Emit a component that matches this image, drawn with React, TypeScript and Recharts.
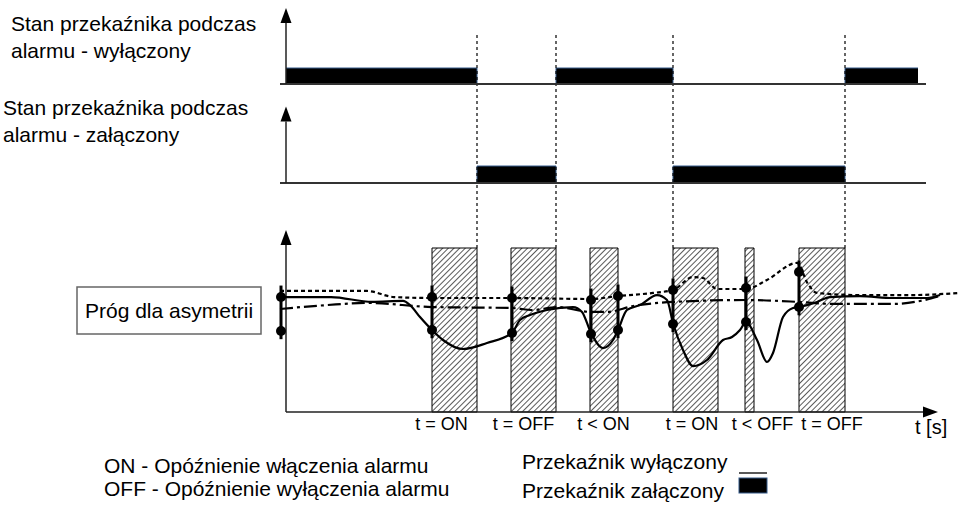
import React from 'react';
import { ComposedChart, XAxis, YAxis, Line, Area, Scatter, ReferenceArea, ReferenceLine } from 'recharts';

const W = 963;
const H = 505;
const PLOT_BOTTOM = 412;
const FONT = '"Liberation Sans", Arial, Helvetica, sans-serif';

// time axis, seconds
const X_DOMAIN: [number, number] = [-28.6, 67.7];

// relay switching moments
const switchTimes = [19.1, 27.0, 38.7, 55.9];

// relay state, alarm -> relay off
const relayOff = [
  { t: 0, s: 1 },
  { t: 19.1, s: 0 },
  { t: 27.0, s: 1 },
  { t: 38.7, s: 0 },
  { t: 55.9, s: 1 },
  { t: 63.2, s: 1 },
];

// relay state, alarm -> relay on
const relayOn = [
  { t: 0, s: 0 },
  { t: 19.1, s: 1 },
  { t: 27.0, s: 0 },
  { t: 38.7, s: 1 },
  { t: 55.9, s: 0 },
  { t: 63.2, s: 0 },
];

// delay windows
const windows = [
  { start: 14.6, end: 19.1, label: 't = ON', labelAt: 15.55 },
  { start: 22.5, end: 27.0, label: 't = OFF', labelAt: 23.75 },
  { start: 30.4, end: 33.2, label: 't < ON', labelAt: 31.75 },
  { start: 38.7, end: 43.2, label: 't = ON', labelAt: 40.6 },
  { start: 45.9, end: 46.8, label: 't < OFF', labelAt: 47.65 },
  { start: 51.3, end: 55.9, label: 't = OFF', labelAt: 54.6 },
];

// measured signal (solid)
const signal = [
  { t: -0.6, v: 70.1 }, { t: 4.5, v: 70.1 }, { t: 8.6, v: 67.1 }, { t: 11.7, v: 67.7 },
  { t: 12.4, v: 65.2 }, { t: 13.4, v: 57.9 }, { t: 14.6, v: 50.0 }, { t: 15.7, v: 43.9 },
  { t: 17.7, v: 38.4 }, { t: 20.1, v: 42.1 }, { t: 22.6, v: 48.2 }, { t: 23.4, v: 56.1 },
  { t: 24.4, v: 59.1 }, { t: 26.1, v: 62.2 }, { t: 28.7, v: 64.0 }, { t: 29.6, v: 61.0 },
  { t: 30.5, v: 48.2 }, { t: 31.7, v: 39.0 }, { t: 32.7, v: 43.9 }, { t: 33.2, v: 50.0 },
  { t: 34.1, v: 62.2 }, { t: 35.4, v: 65.2 }, { t: 37.1, v: 71.3 }, { t: 38.1, v: 68.3 },
  { t: 38.7, v: 54.3 }, { t: 39.7, v: 37.8 }, { t: 40.7, v: 28.0 }, { t: 42.1, v: 31.7 },
  { t: 43.7, v: 43.9 }, { t: 44.6, v: 45.7 }, { t: 45.4, v: 50.0 }, { t: 46.0, v: 54.9 },
  { t: 47.1, v: 43.9 }, { t: 48.1, v: 30.5 }, { t: 48.7, v: 36.0 }, { t: 49.7, v: 57.9 },
  { t: 50.7, v: 63.4 }, { t: 51.3, v: 64.0 }, { t: 53.1, v: 67.1 }, { t: 54.4, v: 70.1 },
  { t: 57.4, v: 70.7 }, { t: 60.7, v: 69.5 }, { t: 64.1, v: 69.5 }, { t: 65.4, v: 71.3 },
];

// upper level (dotted)
const upperLevel = [
  { t: -0.6, v: 73.8 }, { t: 8.1, v: 73.8 }, { t: 10.8, v: 70.1 }, { t: 14.6, v: 69.5 },
  { t: 22.6, v: 69.5 }, { t: 30.5, v: 68.9 }, { t: 33.2, v: 70.7 }, { t: 36.7, v: 72.6 },
  { t: 38.7, v: 74.4 }, { t: 40.7, v: 82.3 }, { t: 41.7, v: 81.7 }, { t: 43.1, v: 75.0 },
  { t: 46.0, v: 75.0 }, { t: 48.1, v: 80.5 }, { t: 51.1, v: 90.9 }, { t: 52.2, v: 78.0 },
  { t: 53.1, v: 72.6 }, { t: 57.4, v: 71.3 }, { t: 62.4, v: 71.3 }, { t: 67.4, v: 72.6 },
];

// lower level (dash-dot)
const lowerLevel = [
  { t: -0.6, v: 62.8 }, { t: 4.1, v: 65.2 }, { t: 8.1, v: 66.5 }, { t: 14.6, v: 64.0 },
  { t: 22.6, v: 63.4 }, { t: 24.7, v: 62.2 }, { t: 27.1, v: 64.0 }, { t: 30.5, v: 61.0 },
  { t: 32.1, v: 61.0 }, { t: 34.7, v: 64.6 }, { t: 38.7, v: 67.1 }, { t: 46.0, v: 68.3 },
  { t: 51.3, v: 67.1 }, { t: 54.7, v: 65.9 }, { t: 60.7, v: 65.9 }, { t: 63.4, v: 67.7 },
  { t: 65.4, v: 70.7 },
];

// threshold marker and crossing markers
const thresholdMark = { t: -0.5, upper: 70.1, lower: 49.4 };
const crossings = [
  { t: 14.6, upper: 70.1, lower: 50.0 },
  { t: 22.6, upper: 69.5, lower: 48.2 },
  { t: 30.5, upper: 68.3, lower: 47.6 },
  { t: 33.2, upper: 70.7, lower: 50.0 },
  { t: 38.7, upper: 74.4, lower: 53.7 },
  { t: 46.0, upper: 75.6, lower: 54.9 },
  { t: 51.3, upper: 85.4, lower: 64.0 },
];

const allMarks = [thresholdMark, ...crossings];
const markDots = allMarks.flatMap((m) => [
  { t: m.t, v: m.upper },
  { t: m.t, v: m.lower },
]);

// maps a value 0 to a pixel row, with given pixels per unit
const band = (zeroPx: number, unitPx: number): [number, number] => [
  -(PLOT_BOTTOM - zeroPx) / unitPx,
  zeroPx / unitPx,
];
const SIG_UNIT = 1.64;

const Arrow = (p: any) => {
  const { x1, y1, x2, y2 } = p;
  const a = Math.atan2(y2 - y1, x2 - x1);
  const L = 15;
  const hw = 5.5;
  const bx = x2 - L * Math.cos(a);
  const by = y2 - L * Math.sin(a);
  const nx = -Math.sin(a) * hw;
  const ny = Math.cos(a) * hw;
  return (
    <g>
      <line x1={x1} y1={y1} x2={bx} y2={by} stroke="#222" strokeWidth={1.5} />
      <polygon points={`${x2},${y2} ${bx + nx},${by + ny} ${bx - nx},${by - ny}`} fill="#000" />
    </g>
  );
};

const txt = { fontFamily: FONT, fontSize: 21, fill: '#000' };

export default function App() {
  return (
    <div style={{ width: W, height: H, position: 'relative', background: '#fff' }}>
      <style>{'body{margin:0}'}</style>
      <ComposedChart width={W} height={H} margin={{ top: 0, right: 0, bottom: 0, left: 0 }}>
        <defs>
          <pattern id="hatch" patternUnits="userSpaceOnUse" width="4" height="4" patternTransform="rotate(45)">
            <rect width="4" height="4" fill="#fff" />
            <line x1="0" y1="0" x2="0" y2="4" stroke="#000" strokeWidth="1.3" />
          </pattern>
        </defs>
        <XAxis
          type="number"
          dataKey="t"
          domain={X_DOMAIN}
          allowDataOverflow
          height={H - PLOT_BOTTOM}
          ticks={windows.map((w) => w.labelAt)}
          tickFormatter={(_v: number, i: number) => windows[i].label}
          interval={0}
          axisLine={false}
          tickLine={false}
          tickSize={0}
          tickMargin={5}
          tick={{ fill: '#000', fontSize: 18, fontFamily: FONT }}
        />
        <YAxis yAxisId="r1" type="number" domain={band(84, 16)} allowDataOverflow hide />
        <YAxis yAxisId="r2" type="number" domain={band(183, 17)} allowDataOverflow hide />
        <YAxis yAxisId="sig" type="number" domain={band(PLOT_BOTTOM, SIG_UNIT)} allowDataOverflow hide />

        {windows.map((w, i) => (
          <ReferenceArea
            key={'w' + i}
            yAxisId="sig"
            x1={w.start}
            x2={w.end}
            y1={0}
            y2={100}
            fill="url(#hatch)"
            fillOpacity={1}
            stroke="#000"
            strokeWidth={1}
          />
        ))}

        {switchTimes.map((t) => (
          <ReferenceLine
            key={'s' + t}
            yAxisId="sig"
            segment={[{ x: t, y: 100 }, { x: t, y: 230 }]}
            stroke="#000"
            strokeWidth={1.2}
            strokeDasharray="3 3"
          />
        ))}

        <Area
          yAxisId="r1"
          data={relayOff}
          dataKey="s"
          type="stepAfter"
          baseValue={0}
          fill="#000"
          fillOpacity={1}
          stroke="#355a8a"
          strokeWidth={1}
          dot={false}
          activeDot={false}
          isAnimationActive={false}
        />
        <Area
          yAxisId="r2"
          data={relayOn}
          dataKey="s"
          type="stepAfter"
          baseValue={0}
          fill="#000"
          fillOpacity={1}
          stroke="#355a8a"
          strokeWidth={1}
          dot={false}
          activeDot={false}
          isAnimationActive={false}
        />

        {/* axes of the three panels */}
        <ReferenceLine yAxisId="r1" segment={[{ x: -0.6, y: 0 }, { x: 64.0, y: 0 }]} stroke="#333" strokeWidth={2} />
        <ReferenceLine yAxisId="r1" segment={[{ x: 0, y: 0 }, { x: 0, y: 4.75 }]} shape={Arrow} />
        <ReferenceLine yAxisId="r2" segment={[{ x: -0.6, y: 0 }, { x: 64.0, y: 0 }]} stroke="#333" strokeWidth={2} />
        <ReferenceLine yAxisId="r2" segment={[{ x: 0, y: 0 }, { x: 0, y: 4.5 }]} shape={Arrow} />
        <ReferenceLine yAxisId="sig" segment={[{ x: 0, y: 0 }, { x: 0, y: 111 }]} shape={Arrow} />
        <ReferenceLine yAxisId="sig" segment={[{ x: 0, y: 0 }, { x: 65.2, y: 0 }]} shape={Arrow} />

        <Line
          yAxisId="sig"
          data={lowerLevel}
          dataKey="v"
          type="monotone"
          stroke="#000"
          strokeWidth={2.2}
          strokeDasharray="13 4 3 4"
          dot={false}
          activeDot={false}
          isAnimationActive={false}
        />
        <Line
          yAxisId="sig"
          data={upperLevel}
          dataKey="v"
          type="monotone"
          stroke="#000"
          strokeWidth={2.2}
          strokeDasharray="4 3"
          dot={false}
          activeDot={false}
          isAnimationActive={false}
        />
        <Line
          yAxisId="sig"
          data={signal}
          dataKey="v"
          type="monotone"
          stroke="#000"
          strokeWidth={2.2}
          dot={false}
          activeDot={false}
          isAnimationActive={false}
        />

        {allMarks.map((m, i) => (
          <ReferenceLine
            key={'m' + i}
            yAxisId="sig"
            segment={[{ x: m.t, y: m.lower - 5 }, { x: m.t, y: m.upper + 7 }]}
            stroke="#000"
            strokeWidth={3}
          />
        ))}
        <Scatter
          yAxisId="sig"
          data={markDots}
          dataKey="v"
          isAnimationActive={false}
          shape={(p: any) => <circle cx={p.cx} cy={p.cy} r={5} fill="#000" />}
        />

        {/* labels */}
        <text x={11} y={31} style={txt}>Stan przekaźnika podczas</text>
        <text x={11} y={58} style={txt}>alarmu - wyłączony</text>
        <text x={3} y={115} style={txt}>Stan przekaźnika podczas</text>
        <text x={3} y={142} style={txt}>alarmu - załączony</text>
        <rect x={77} y={287} width={184} height={47} fill="#fff" stroke="#666" strokeWidth={1.5} />
        <text x={85} y={318} style={txt}>Próg dla asymetrii</text>
        <text x={915} y={434} style={{ ...txt, fontSize: 20 }}>t [s]</text>

        {/* legend */}
        <text x={104} y={473} style={txt}>ON - Opóźnienie włączenia alarmu</text>
        <text x={104} y={496} style={txt}>OFF - Opóźnienie wyłączenia alarmu</text>
        <text x={522} y={469} style={txt}>Przekaźnik wyłączony</text>
        <text x={522} y={498} style={txt}>Przekaźnik załączony</text>
        <line x1={739} y1={473} x2={767} y2={473} stroke="#222" strokeWidth={1.5} />
        <rect x={739} y={478} width={28} height={15} fill="#000" stroke="#355a8a" strokeWidth={1} />
      </ComposedChart>
    </div>
  );
}
